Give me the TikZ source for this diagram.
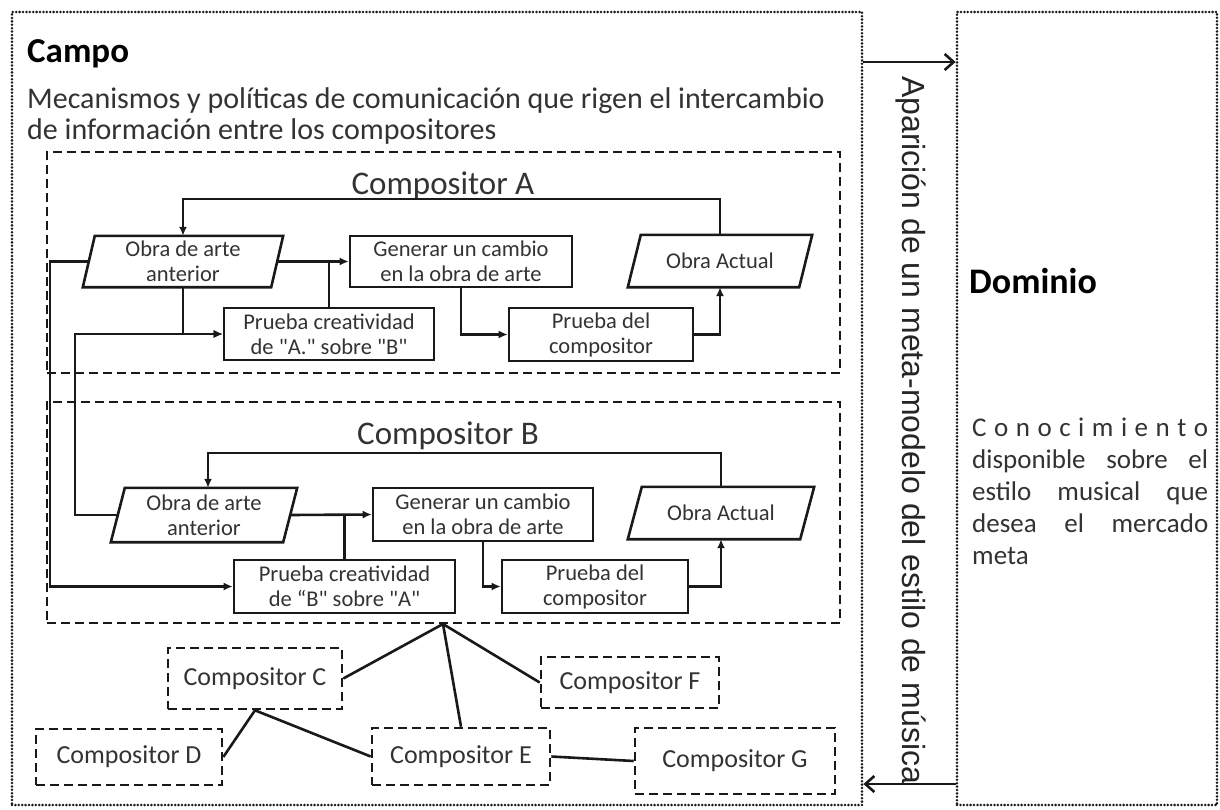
\documentclass[tikz,border=0pt]{standalone}
\usepackage{fontspec}
\setmainfont{Carlito}
\newfontfamily\bxfont{Carlito}[Ligatures=TeXOff]
\newfontfamily\vfont{Liberation Sans}
\usetikzlibrary{arrows.meta,calc}
\newcommand\drawpara[2]{\draw[conn] ([xshift=#2]#1.north west) -- ([xshift=#2]#1.north east) -- ([xshift=-#2]#1.south east) -- ([xshift=-#2]#1.south west) -- cycle;}
\begin{document}
\begin{tikzpicture}[x=1pt,y=-1pt,
  conn/.style={line width=2.6pt, black!90},
  arr/.style={conn, -{Latex[length=9pt,width=8pt]}},
  barb/.style={conn, -{Straight Barb[length=9pt,width=16pt,line width=2.6pt]}},
  dashbox/.style={draw=black!90, line width=2.6pt, dash pattern=on 9pt off 5pt, inner sep=0pt},
  dotbox/.style={draw=black!90, line width=2.8pt, dash pattern=on 0pt off 3.4pt, line cap=round, inner sep=0pt},
  proc/.style={draw=black!90, line width=2.6pt, inner sep=0pt, align=center, text=black!80, font=\bxfont\fontsize{22.5}{25}\selectfont},
  para/.style={inner sep=0pt, align=center, text=black!80, font=\bxfont\fontsize{22.5}{25}\selectfont},
  ctitle/.style={inner sep=0pt, text=black!80, font=\fontsize{33}{36}\selectfont},
  cbox/.style={dashbox, text=black!80, font=\fontsize{26}{30}\selectfont},
  txt/.style={inner sep=0pt, text=black!80, font=\fontsize{30}{32}\selectfont},
  head/.style={inner sep=0pt, text=black, font=\bfseries\fontsize{35}{40}\selectfont},
  dtxt/.style={inner sep=0pt, text=black!80, font=\fontsize{27}{32}\selectfont}
]
\fill[white] (0,0) rectangle (1220,809);
\useasboundingbox (0,0) rectangle (1220,809);

% outer boxes
\node[dotbox, minimum width=850pt, minimum height=793pt] (campo) at (437,408.5) {};
\node[dotbox, minimum width=260pt, minimum height=793pt] (dominio) at (1087,408.5) {};
\coordinate (ytop) at (0,62);
\coordinate (ybot) at (0,784);
\draw[barb] (campo.east |- ytop) -- (dominio.west |- ytop);
\draw[barb] (dominio.west |- ybot) -- (campo.east |- ybot);

\node[rotate=-90, anchor=west, inner sep=0pt, text=black!85, font=\vfont\fontsize{32}{32}\selectfont] (vt) at (911,76) {Aparición de un meta-modelo del estilo de música};

% Campo texts
\node[head, anchor=base west] (campot) at (27,62) {Campo};
\node[txt, anchor=base west] (mec1) at (27,108) {Mecanismos y políticas de comunicación que rigen el intercambio};
\node[txt, anchor=base west] (mec2) at (27,139) {de información entre los compositores};

% Dominio texts
\node[head, anchor=base west, font=\bfseries\fontsize{36}{40}\selectfont] (domt) at (969,293) {Dominio};
\node[dtxt, anchor=base west] (d1) at (972,436) {\makebox[236pt][s]{C\hfill o\hfill n\hfill o\hfill c\hfill i\hfill m\hfill i\hfill e\hfill n\hfill t\hfill o}};
\node[dtxt, anchor=base west] (d2) at (972,468) {\makebox[236pt][s]{disponible\hfill sobre\hfill el}};
\node[dtxt, anchor=base west] (d3) at (972,500) {\makebox[236pt][s]{estilo\hfill musical\hfill que}};
\node[dtxt, anchor=base west] (d4) at (972,532) {\makebox[236pt][s]{desea\hfill el\hfill mercado}};
\node[dtxt, anchor=base west] (d5) at (972,564) {meta};

% Compositor A
\node[dashbox, minimum width=793pt, minimum height=221pt] (boxA) at (443.5,262.5) {};
\node[ctitle] (titA) at (443,186) {Compositor A};
\node[para, minimum width=188pt, minimum height=51pt] (oaA) at (183,261.5) {Obra de arte\\anterior};
\drawpara{oaA}{6pt}
\node[proc, minimum width=222pt, minimum height=51pt] (genA) at (461,261.5) {Generar un cambio\\en la obra de arte};
\node[para, minimum width=171pt, minimum height=52pt] (actA) at (720,261) {Obra Actual};
\drawpara{actA}{6.5pt}
\node[proc, minimum width=210pt, minimum height=52pt] (pcA) at (329,334) {Prueba creatividad\\de "A." sobre "B"};
\node[proc, minimum width=184pt, minimum height=53pt] (pdA) at (601,334.5) {Prueba del\\compositor};

\coordinate (fbA) at (183,199);
\draw[arr] (actA.north) |- (fbA) -- (oaA.north);
\draw[arr] (oaA.east) -- (genA.west);
\draw[conn] (pcA.north) -- (pcA.north |- genA.west);
\draw[arr] (oaA.south) |- (pcA.west);
\draw[arr] (genA.south) |- (pdA.west);
\draw[arr] (pdA.east) -| (actA.south);

% Compositor B
\node[dashbox, minimum width=793pt, minimum height=221pt] (boxB) at (443.5,512.5) {};
\node[ctitle] (titB) at (448,436) {Compositor B};
\node[para, minimum width=172pt, minimum height=54pt] (oaB) at (204,515) {Obra de arte\\anterior};
\drawpara{oaB}{7pt}
\node[proc, minimum width=220pt, minimum height=53pt] (genB) at (483,514.5) {Generar un cambio\\en la obra de arte};
\node[para, minimum width=172pt, minimum height=52pt] (actB) at (721,513) {Obra Actual};
\drawpara{actB}{7pt}
\node[proc, minimum width=221pt, minimum height=53pt] (pcB) at (344.5,586.5) {Prueba creatividad\\de “B" sobre "A"};
\node[proc, minimum width=186pt, minimum height=53pt] (pdB) at (595,586.5) {Prueba del\\compositor};

\coordinate (fbB) at (208,453);
\draw[arr] (actB.north) |- (fbB) -- (fbB |- oaB.north);
\draw[arr] (oaB.east) -- (genB.west);
\draw[conn] (pcB.north) -- (pcB.north |- genB.west);
\draw[arr] (genB.south) |- (pdB.west);
\draw[arr] (pdB.east) -| (actB.south);

% cross links
\coordinate (lA) at (50,0);
\coordinate (lB) at (75,0);
\draw[arr] (oaA.west) -- (oaA.west -| lA) |- (pcB.west);
\draw[arr] (oaB.west) -- (oaB.west -| lB) |- (pcA.west);

% other composers
\node[cbox, minimum width=174pt, minimum height=61pt] (compC) at (255,678.5) {Compositor C};
\node[cbox, minimum width=186pt, minimum height=56pt] (compD) at (129,757) {Compositor D};
\node[cbox, minimum width=178pt, minimum height=57pt] (compE) at (461,756.5) {Compositor E};
\node[cbox, minimum width=178pt, minimum height=51pt] (compF) at (630,682.5) {Compositor F};
\node[cbox, minimum width=200pt, minimum height=66pt] (compG) at (735,761) {Compositor G};

\coordinate (jB) at (443,624);
\draw[conn] (jB) -- (compC.east);
\draw[conn] (jB) -- (compE.north);
\draw[conn] (jB) -- (compF.west);
\draw[conn] (compC.south) -- (compD.east);
\draw[conn] (compC.south) -- (compE.west);
\draw[conn] (compE.east) -- (compG.west);
\end{tikzpicture}
\end{document}
